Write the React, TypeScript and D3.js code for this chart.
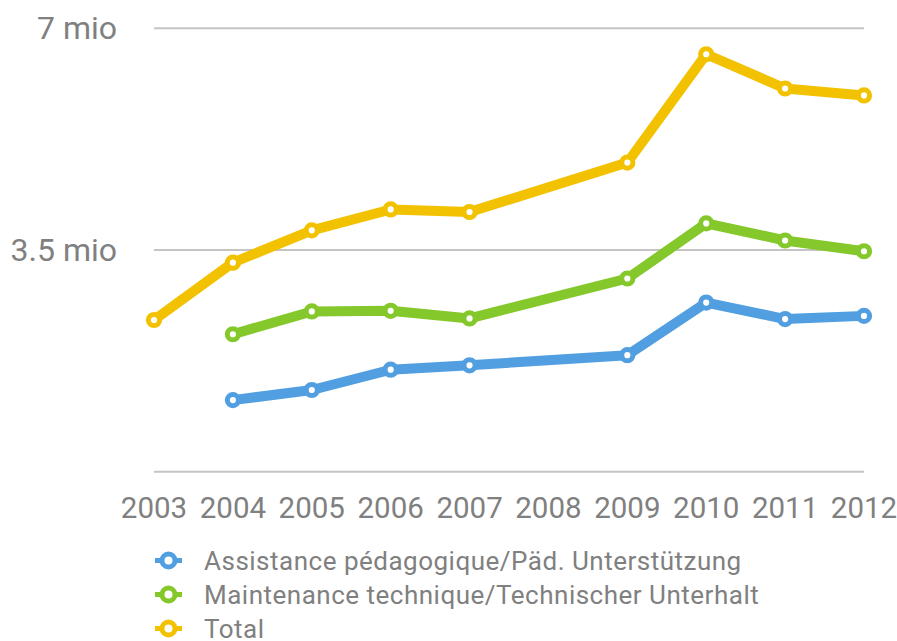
import React from "react";
import * as d3 from "d3";

const years = [2003, 2004, 2005, 2006, 2007, 2008, 2009, 2010, 2011, 2012];
const assistance: (number | null)[] = [null, 1.13, 1.29, 1.61, 1.68, null, 1.84, 2.67, 2.41, 2.46];
const maintenance: (number | null)[] = [null, 2.17, 2.53, 2.54, 2.42, null, 3.05, 3.92, 3.65, 3.48];
const total: (number | null)[] = [2.395, 3.3, 3.81, 4.14, 4.1, null, 4.88, 6.59, 6.05, 5.94];
const yTicks = [0, 3.5, 7];
const yTickLabels = ["", "3.5 mio", "7 mio"];
const seriesNames = [
  "Assistance pédagogique/Päd. Unterstützung",
  "Maintenance technique/Technischer Unterhalt",
  "Total",
];
const seriesColors = ["#519FE0", "#84C82B", "#F2C200"];

const W = 897;
const H = 641;
const FONT = "Roboto, 'Noto Sans', sans-serif";
const TEXT = "#808080";

export default function App() {
  const x = d3.scaleLinear().domain([2003, 2012]).range([154, 864]);
  const y = d3.scaleLinear().domain([0, 7]).range([471.7, 28.3]);
  const all = [assistance, maintenance, total];

  const line = d3
    .line<{ yr: number; v: number }>()
    .x((d) => x(d.yr))
    .y((d) => y(d.v));

  return (
    <svg
      width={W}
      height={H}
      style={{ position: "absolute", left: 0, top: 0, background: "#fff" }}
      fontFamily={FONT}
    >
      {yTicks.map((t) => (
        <line
          key={"g" + t}
          x1={x(2003)}
          x2={x(2012)}
          y1={y(t)}
          y2={y(t)}
          stroke="#C4C4C4"
          strokeWidth={2}
        />
      ))}
      {yTicks.map((t, i) =>
        yTickLabels[i] ? (
          <text
            key={"yl" + t}
            x={117}
            y={y(t) + 10.5}
            textAnchor="end"
            fontSize={32}
            fill={TEXT}
          >
            {yTickLabels[i]}
          </text>
        ) : null
      )}
      {years.map((yr) => (
        <text key={"xl" + yr} x={x(yr)} y={518} textAnchor="middle" fontSize={29.5} fill={TEXT}>
          {yr}
        </text>
      ))}
      {all.map((s, si) => {
        const pts = years
          .map((yr, i) => ({ yr, v: s[i] as number }))
          .filter((d) => d.v !== null);
        return (
          <g key={"s" + si}>
            <path
              d={line(pts) || ""}
              fill="none"
              stroke={seriesColors[si]}
              strokeWidth={10}
              strokeLinejoin="round"
              strokeLinecap="round"
            />
            {pts.map((d) => (
              <circle
                key={d.yr}
                cx={x(d.yr)}
                cy={y(d.v)}
                r={5.6}
                fill="#fff"
                stroke={seriesColors[si]}
                strokeWidth={5}
              />
            ))}
          </g>
        );
      })}
      {seriesNames.map((n, i) => {
        const cy = 560.5 + i * 34;
        return (
          <g key={"lg" + i}>
            <line x1={155} x2={182} y1={cy} y2={cy} stroke={seriesColors[i]} strokeWidth={5} />
            <circle cx={168.5} cy={cy} r={6.5} fill="#fff" stroke={seriesColors[i]} strokeWidth={5} />
            <text x={204} y={cy + 9} fontSize={26} letterSpacing={0.5} fill={TEXT}>
              {n}
            </text>
          </g>
        );
      })}
    </svg>
  );
}
